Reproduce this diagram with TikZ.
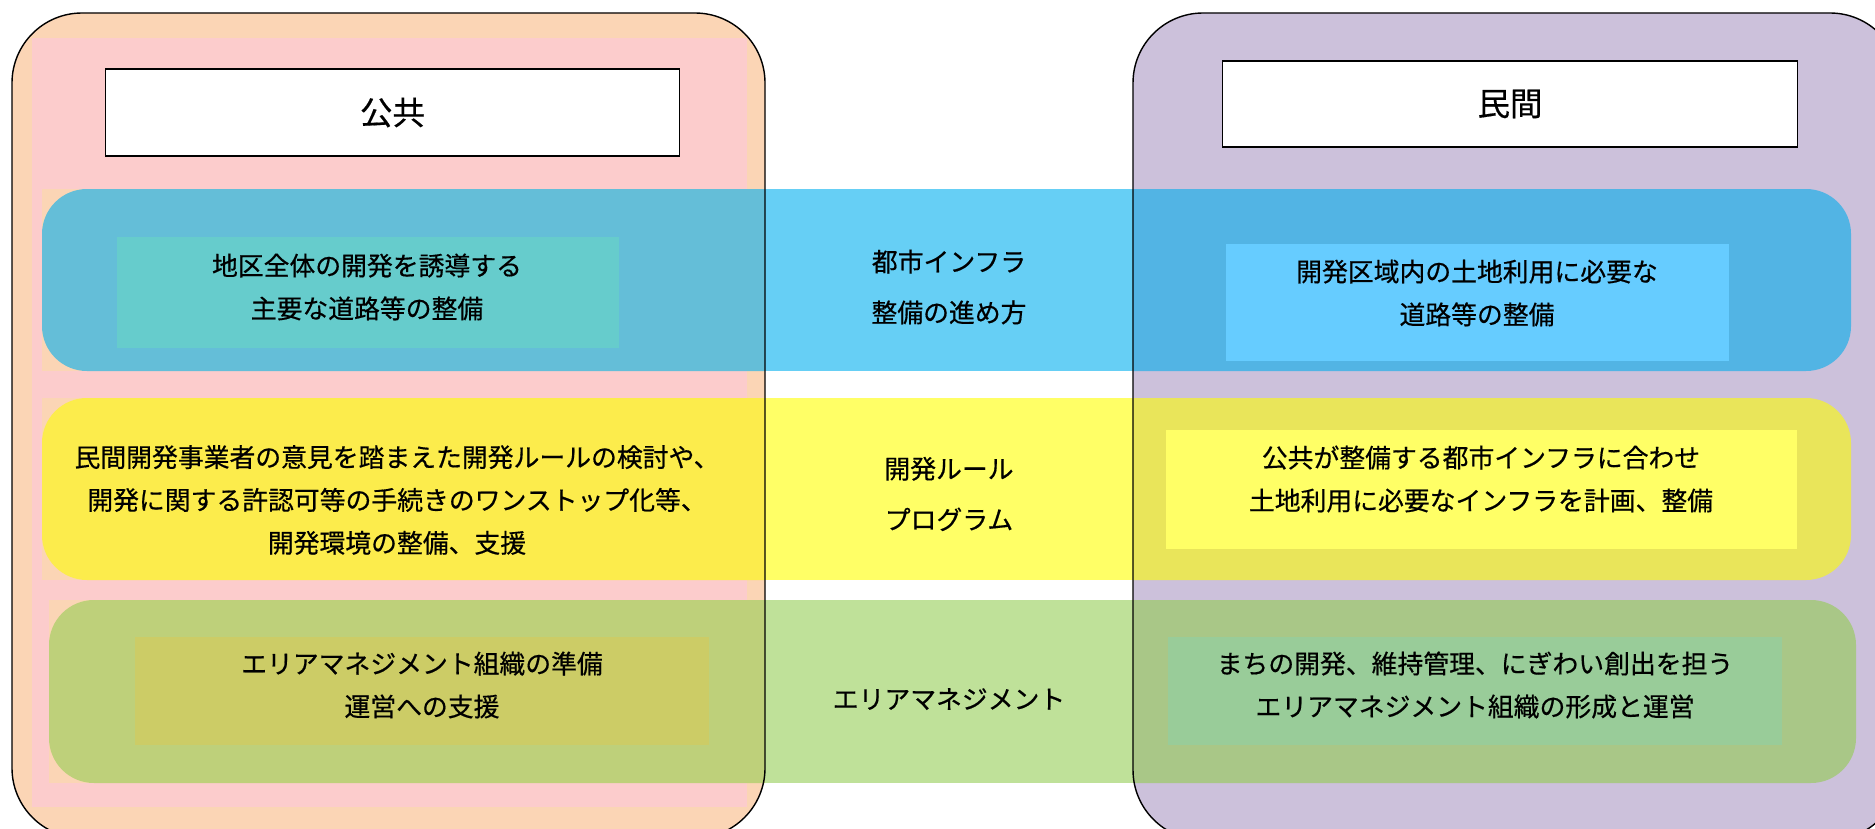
\documentclass[tikz,border=0pt]{standalone}
\usepackage{fontspec}
\newfontfamily\jp[FakeBold=0.5]{Noto Sans CJK JP}
\definecolor{peach}{HTML}{FBD5B5}
\definecolor{pinkbg}{HTML}{FCCCCC}
\definecolor{purplebg}{HTML}{CCC1DB}
\definecolor{blueL}{HTML}{64BED8}
\definecolor{blueC}{HTML}{66CFF5}
\definecolor{blueR}{HTML}{52B4E4}
\definecolor{yelL}{HTML}{FCEC4C}
\definecolor{yelC}{HTML}{FFFF66}
\definecolor{yelR}{HTML}{E9E55A}
\definecolor{grnL}{HTML}{BED07A}
\definecolor{grnC}{HTML}{BFE199}
\definecolor{grnR}{HTML}{A9C787}
\definecolor{tealbox}{HTML}{66CCCC}
\definecolor{skybox}{HTML}{66CCFF}
\definecolor{yelbox}{HTML}{FFFF66}
\definecolor{olivebox}{HTML}{CCCC66}
\definecolor{grnbox}{HTML}{99CC99}
\newcommand\drawband[7]{%
  \fill[peach] (#1,#2) rectangle (765,#4);
  \begin{scope}
    \clip (0,0) rectangle (765,828);
    \fill[#5, rounded corners=0.9cm] (#1,#2) rectangle (#3,#4);
  \end{scope}
  \begin{scope}
    \clip (765,0) rectangle (1133,828);
    \fill[#6] (#1,#2) rectangle (#3,#4);
  \end{scope}
  \begin{scope}
    \clip (1133,0) rectangle (1900,828);
    \fill[#7, rounded corners=0.9cm] (#1,#2) rectangle (#3,#4);
  \end{scope}}
\begin{document}
\begin{tikzpicture}[x=0.02cm,y=-0.02cm,
  hdrbox/.style={draw=black, line width=0.6pt, fill=white, inner sep=0pt},
  innerbox/.style={draw=none, inner sep=0pt},
  sidetxt/.style={align=center, inner sep=0pt, font=\jp\fontsize{14.7}{24.4}\selectfont},
  midtxt/.style={align=center, inner sep=0pt, font=\jp\fontsize{14.7}{28.9}\selectfont},
  hdrtxt/.style={inner sep=0pt, font=\jp\fontsize{18.5}{22}\selectfont},
  outline/.style={draw=black, line width=0.8pt, rounded corners=1.4cm}]
\useasboundingbox (0,0) rectangle (1875,828);
\fill[white] (0,0) rectangle (1875,828);
% outer panels
\fill[peach, rounded corners=1.4cm] (12,13) rectangle (765,838);
\fill[pinkbg] (32,38) rectangle (747,807);
\fill[purplebg, rounded corners=1.4cm] (1133,13) rectangle (1900,840);
% header boxes
\node[hdrbox, minimum width=11.5cm, minimum height=1.74cm] (pubbox) at (392.5,112.5) {};
\node[hdrtxt] (pub) at (392.5,112.5) {公共};
\node[hdrbox, minimum width=11.52cm, minimum height=1.72cm] (privbox) at (1510,104) {};
\node[hdrtxt] (priv) at (1510,104) {民間};
% bands
\drawband{42}{189}{1851}{371}{blueL}{blueC}{blueR}
\drawband{42}{398}{1851}{580}{yelL}{yelC}{yelR}
\drawband{49}{600}{1856}{783}{grnL}{grnC}{grnR}
% inner boxes
\node[innerbox, fill=tealbox, minimum width=10.04cm, minimum height=2.22cm] (b1L) at (368,292.5) {};
\node[innerbox, fill=skybox, minimum width=10.06cm, minimum height=2.34cm] (b1R) at (1477.5,302.5) {};
\node[innerbox, fill=yelbox, minimum width=12.62cm, minimum height=2.38cm] (b2R) at (1481.5,489.5) {};
\node[innerbox, fill=olivebox, minimum width=11.48cm, minimum height=2.16cm] (b3L) at (422,691) {};
\node[innerbox, fill=grnbox, minimum width=12.28cm, minimum height=2.16cm] (b3R) at (1475,691) {};
% texts
\node[sidetxt] (t1L) at (367,287) {地区全体の開発を誘導する\\主要な道路等の整備};
\node[midtxt] (t1C) at (949,287) {都市インフラ\\整備の進め方};
\node[sidetxt] (t1R) at (1477,293) {開発区域内の土地利用に必要な\\道路等の整備};
\node[sidetxt] (t2L) at (397,500) {民間開発事業者の意見を踏まえた開発ルールの検討や、\\開発に関する許認可等の手続きのワンストップ化等、\\開発環境の整備、支援};
\node[midtxt] (t2C) at (949,494) {開発ルール\\プログラム};
\node[sidetxt] (t2R) at (1481,479) {公共が整備する都市インフラに合わせ\\土地利用に必要なインフラを計画、整備};
\node[sidetxt] (t3L) at (422,685) {エリアマネジメント組織の準備\\運営への支援};
\node[midtxt] (t3C) at (949,699) {エリアマネジメント};
\node[sidetxt] (t3R) at (1475,685) {まちの開発、維持管理、にぎわい創出を担う\\エリアマネジメント組織の形成と運営};
% outlines
\draw[outline] (12,13) rectangle (765,838);
\draw[outline] (1133,13) rectangle (1900,840);
\end{tikzpicture}
\end{document}
